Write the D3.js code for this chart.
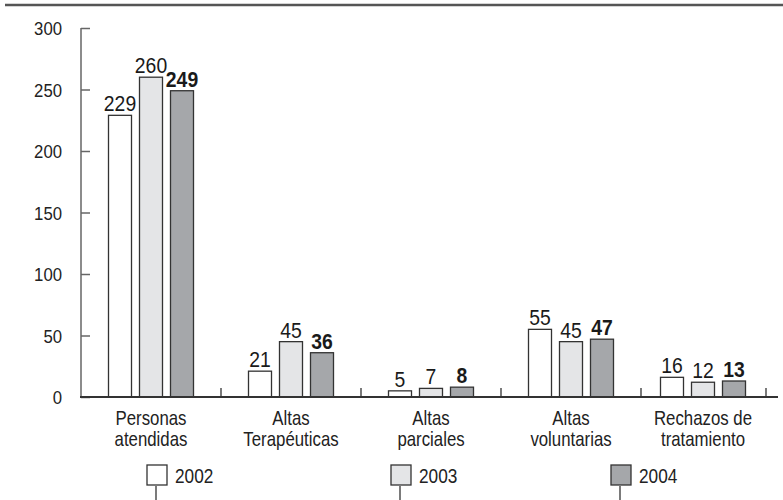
<!DOCTYPE html>
<html>
<head>
<meta charset="utf-8">
<script src="https://cdn.jsdelivr.net/npm/d3@7"></script>
<style>
  body { margin: 0; background: #fff; }
  svg { display: block; font-family: "Liberation Sans", Arial, sans-serif; }
</style>
</head>
<body>
<svg id="chart" width="783" height="500"></svg>
<script>
// data
var categories = ['Personas atendidas', 'Altas Terapéuticas', 'Altas parciales', 'Altas voluntarias', 'Rechazos de tratamiento'];
var categoryLines = [['Personas', 'atendidas'], ['Altas', 'Terapéuticas'], ['Altas', 'parciales'], ['Altas', 'voluntarias'], ['Rechazos de', 'tratamiento']];
var years = ['2002', '2003', '2004'];
var values2002 = [229, 21, 5, 55, 16];
var values2003 = [260, 45, 7, 45, 12];
var values2004 = [249, 36, 8, 47, 13];
var yTicks = [0, 50, 100, 150, 200, 250, 300];

var series = [values2002, values2003, values2004];
var fills = ['#ffffff', '#e4e5e7', '#a5a7aa'];

// the original uses a condensed face, so squeeze the text horizontally
function squeeze(selection, factor) {
    selection.each(function() {
        var len = this.getComputedTextLength();
        d3.select(this)
            .attr('textLength', len * factor)
            .attr('lengthAdjust', 'spacingAndGlyphs');
    });
}

var svg = d3.select('#chart');

// top rule
svg.append('line')
    .attr('x1', 5).attr('x2', 783)
    .attr('y1', 5).attr('y2', 5)
    .attr('stroke', '#555').attr('stroke-width', 2.5);

// scales
var yScale = d3.scaleLinear().domain([0, 300]).range([397, 28]);
var xScale = d3.scaleBand().domain(categories).range([81, 781]).padding(0);
var groupWidth = 85;
var xSub = d3.scaleBand().domain(years).range([-groupWidth / 2, groupWidth / 2]).paddingInner(8 / 31);

// y axis
var yAxis = d3.axisLeft(yScale).tickValues(yTicks).tickSize(-9).tickPadding(19);
var yAxisG = svg.append('g')
    .attr('transform', 'translate(81,0)')
    .call(yAxis);
yAxisG.select('.domain').remove();
yAxisG.append('line')
    .attr('x1', 0).attr('x2', 0)
    .attr('y1', yScale(300)).attr('y2', yScale(0))
    .attr('stroke', '#666').attr('stroke-width', 1.5);
yAxisG.selectAll('.tick line').attr('stroke', '#666').attr('stroke-width', 1.5);
yAxisG.selectAll('.tick text')
    .attr('fill', '#222')
    .attr('dy', '0.36em')
    .style('font-size', '19px')
    .style('font-family', '"Liberation Sans", Arial, sans-serif')
    .call(squeeze, 0.88);

// bars
var groups = svg.selectAll('.group')
    .data(categories)
    .enter().append('g')
    .attr('class', 'group')
    .attr('transform', function(d, i) {
        var cx = xScale(d) + xScale.bandwidth() / 2;
        if (i === categories.length - 1) cx -= 8;
        return 'translate(' + cx + ',0)';
    });

groups.each(function(cat, ci) {
    var g = d3.select(this);
    years.forEach(function(yr, si) {
        var v = series[si][ci];
        g.append('rect')
            .attr('x', xSub(yr))
            .attr('y', yScale(v))
            .attr('width', xSub.bandwidth())
            .attr('height', yScale(0) - yScale(v))
            .attr('fill', fills[si])
            .attr('stroke', '#333')
            .attr('stroke-width', 1.3);
        g.append('text')
            .attr('class', 'value')
            .attr('x', xSub(yr) + xSub.bandwidth() / 2)
            .attr('y', yScale(v) - 4)
            .attr('text-anchor', 'middle')
            .attr('fill', '#1a1a1a')
            .style('font-size', '22px')
            .style('font-weight', si === 2 ? 'bold' : 'normal')
            .text(v);
    });
    // category label
    var label = g.append('text')
        .attr('text-anchor', 'middle')
        .attr('fill', '#222')
        .style('font-size', '21px');
    categoryLines[ci].forEach(function(line, li) {
        label.append('tspan')
            .attr('x', 0)
            .attr('y', 425 + li * 21)
            .text(line);
    });
});
svg.selectAll('.value').call(squeeze, 0.88);
svg.selectAll('.group tspan').call(squeeze, 0.8);

// bottom axis line and group separators
svg.append('line')
    .attr('x1', 80).attr('x2', 778)
    .attr('y1', yScale(0)).attr('y2', yScale(0))
    .attr('stroke', '#333').attr('stroke-width', 2);

var separators = categories.slice(1).map(function(c) { return xScale(c); });
separators.push(766);
svg.selectAll('.sep')
    .data(separators)
    .enter().append('line')
    .attr('class', 'sep')
    .attr('x1', function(d) { return d; })
    .attr('x2', function(d) { return d; })
    .attr('y1', yScale(0) - 9)
    .attr('y2', yScale(0))
    .attr('stroke', '#333').attr('stroke-width', 1.3);

// legend
var legendX = d3.scaleOrdinal().domain(years).range([147, 391, 611]);
var legend = svg.selectAll('.legend-item')
    .data(years)
    .enter().append('g')
    .attr('class', 'legend-item')
    .attr('transform', function(d) { return 'translate(' + legendX(d) + ',465)'; });

legend.append('rect')
    .attr('width', 20)
    .attr('height', 20)
    .attr('fill', function(d, i) { return fills[i]; })
    .attr('stroke', '#333')
    .attr('stroke-width', 1.3);

legend.append('line')
    .attr('x1', 9).attr('x2', 9)
    .attr('y1', 21).attr('y2', 40)
    .attr('stroke', '#333').attr('stroke-width', 1.3);

legend.append('text')
    .attr('x', 28)
    .attr('y', 18)
    .attr('fill', '#222')
    .style('font-size', '21px')
    .text(function(d) { return d; })
    .call(squeeze, 0.82);
</script>
</body>
</html>
